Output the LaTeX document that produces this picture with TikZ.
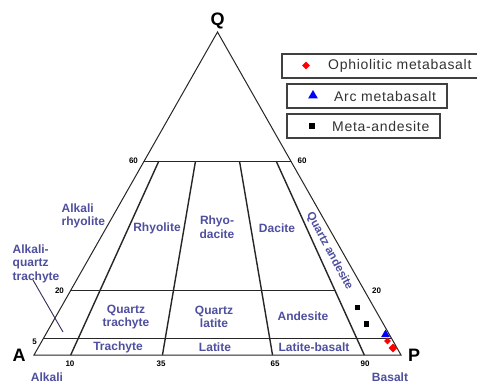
\documentclass[tikz,border=0pt]{standalone}
\usepackage{fontspec}
\setmainfont{Liberation Sans}
\newfontfamily\legendfont[LetterSpace=5]{Liberation Sans}
\usetikzlibrary{calc,shapes.geometric}
\definecolor{lab}{HTML}{4F4F9F}
\begin{document}
\begin{tikzpicture}[x=1pt,y=-1pt,
 edge/.style={line width=1pt, black!85},
 divider/.style={line width=1.4pt, black!85},
 region/.style={font=\bfseries\fontsize{12}{13.5}\selectfont, text=lab, inner sep=0pt, align=center},
 ticklab/.style={font=\bfseries\fontsize{8}{9}\selectfont, inner sep=0pt},
 vertex/.style={font=\bfseries\fontsize{18}{18}\selectfont, inner sep=0pt},
 legbox/.style={draw=black!75, line width=1.1pt},
 legtext/.style={font=\legendfont\fontsize{14}{14}\selectfont, text=black!80, inner sep=0pt, anchor=west},
 sqmark/.style={fill=black, inner sep=0pt, minimum size=5.5pt},
 trimark/.style={regular polygon, regular polygon sides=3, fill=blue, inner sep=0pt, minimum size=11pt},
 redmark/.style={diamond, fill=red, inner sep=0pt, minimum size=#1},
]
\useasboundingbox[fill=white] (0,0) rectangle (477,383);
% vertices
\coordinate (A) at (34,355);
\coordinate (P) at (401,355);
\coordinate (Q) at (217.5,32);
\coordinate (L60) at ($(A)!0.6!(Q)$);
\coordinate (R60) at ($(P)!0.6!(Q)$);
\coordinate (L20) at ($(A)!0.2!(Q)$);
\coordinate (L5) at ($(A)!0.05!(Q)$);
\coordinate (R5) at ($(P)!0.05!(Q)$);
\coordinate (b10) at ($(A)!0.1!(P)$);
\coordinate (b35) at ($(A)!0.35!(P)$);
\coordinate (b65) at ($(A)!0.65!(P)$);
\coordinate (b90) at ($(A)!0.9!(P)$);
\coordinate (t10) at ($(b10)!0.6!(Q)$);
\coordinate (t35) at ($(b35)!0.6!(Q)$);
\coordinate (t65) at ($(b65)!0.6!(Q)$);
\coordinate (t90) at ($(b90)!0.6!(Q)$);
\coordinate (m90) at ($(b90)!0.2!(Q)$);
% frame
\draw[edge] (A) -- (P) -- (Q) -- cycle;
\draw[edge] (L60) -- (R60);
\draw[edge] (L20) -- (m90);
\draw[edge] (L5) -- (R5);
\draw[divider] (b10) -- (t10);
\draw[divider] (b35) -- (t35);
\draw[divider] (b65) -- (t65);
\draw[divider] (b90) -- (t90);
% pointer
\coordinate (pa) at (33,280);
\coordinate (pb) at (63,332);
\draw[line width=0.9pt, lab!60!black] (pa) -- (pb);
% vertex labels
\node[vertex] (lQ) at (217.5,21) {Q};
\node[vertex] (lA) at (19,355.5) {A};
\node[vertex] (lP) at (414,355.5) {P};
\node[region] (lAlk) at (47,377) {Alkali};
\node[region] (lBas) at (390,377) {Basalt};
% ticks
\node[ticklab] (n60l) at (133.5,160.5) {60};
\node[ticklab] (n60r) at (302,160.5) {60};
\node[ticklab] (n20l) at (59.5,291) {20};
\node[ticklab] (n20r) at (376.5,291) {20};
\node[ticklab] (n5l) at (34.5,342) {5};
\node[ticklab] (n10) at (70,363.5) {10};
\node[ticklab] (n35) at (161,363.5) {35};
\node[ticklab] (n65) at (275,363.5) {65};
\node[ticklab] (n90) at (365,363.5) {90};
% regions
\node[region, anchor=west, align=left] (rAR) at (61.5,216) {Alkali\\rhyolite};
\node[region, anchor=west, align=left] (rAQT) at (12.5,263.5) {Alkali-\\quartz\\trachyte};
\node[region] (rRhy) at (157,228) {Rhyolite};
\node[region] (rRD) at (217,227) {Rhyo-\\dacite};
\node[region] (rDac) at (277,228) {Dacite};
\node[region, font=\bfseries\fontsize{11.5}{13}\selectfont, rotate=-62] (rQA) at (329.5,251) {Quartz andesite};
\node[region] (rQT) at (126,317) {Quartz\\trachyte};
\node[region] (rQL) at (214,317) {Quartz\\latite};
\node[region] (rAnd) at (303,316) {Andesite};
\node[region] (rTra) at (118,347) {Trachyte};
\node[region] (rLat) at (215,347) {Latite};
\node[region] (rLB) at (314,347) {Latite-basalt};
% legend
\draw[legbox] (282,54) rectangle (479,78);
\draw[legbox] (287,84) rectangle (447,108);
\draw[legbox] (287,114) rectangle (440,138);
\node[redmark=8pt] (kOph) at (306,65.5) {};
\node[trimark] (kArc) at (313,95.5) {};
\node[sqmark] (kMA) at (312,126) {};
\node[legtext] (tOph) at (328,65.5) {Ophiolitic metabasalt};
\node[legtext] (tArc) at (334,96) {Arc metabasalt};
\node[legtext] (tMA) at (332,126) {Meta-andesite};
% data
\node[sqmark] (d1) at (357.7,307.5) {};
\node[sqmark] (d2) at (366.7,324) {};
\node[trimark, minimum size=10pt] (d3) at (385.5,334.5) {};
\node[redmark=7pt] (d4) at (387.5,341) {};
\node[redmark=9pt] (d5) at (393,348) {};
\end{tikzpicture}
\end{document}
